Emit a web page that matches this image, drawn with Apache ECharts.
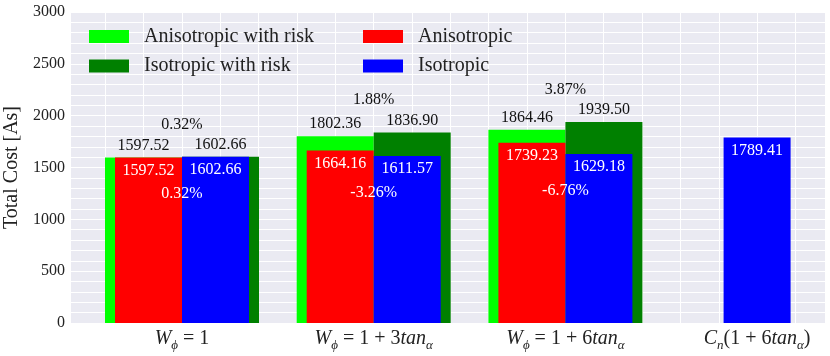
<!DOCTYPE html>
<html>
<head>
<meta charset="utf-8">
<script src="https://cdn.jsdelivr.net/npm/echarts@6/dist/echarts.min.js"></script>
<style>
  html, body { margin: 0; padding: 0; background: #fff; }
  #chart-container { width: 830px; height: 356px; }
</style>
</head>
<body>
<div id="chart-container"></div>
<script>
// tick labels of the x axis (rich text for the math)
const xLabels = [
  '{i|W}{s|ϕ}{r| = 1}',
  '{i|W}{s|ϕ}{r| = 1 + 3}{i|tan}{s|α}',
  '{i|W}{s|ϕ}{r| = 1 + 6}{i|tan}{s|α}',
  '{i|C}{s|n}{r|(1 + 6}{i|tan}{s|α}{r|)}'
];
const anisoRisk = [1597.52, 1802.36, 1864.46, '-'];
const isoRisk = [1602.66, 1836.90, 1939.50, '-'];
const aniso = [1597.52, 1664.16, 1739.23, '-'];
const iso = [1602.66, 1611.57, 1629.18, '-'];
const isoCn = ['-', '-', '-', 1789.41];
const riskDiff = ['0.32%', '1.88%', '3.87%'];
const plainDiff = ['0.32%', '-3.26%', '-6.76%'];

const SERIF = "'Liberation Serif', 'DejaVu Serif', serif";
const fmt = (p) => p.value.toFixed(2);

const riskTop = riskDiff.map((t, i) => Math.max(anisoRisk[i], isoRisk[i]));
const plainLow = plainDiff.map((t, i) => Math.min(aniso[i], iso[i]));

const dom = document.getElementById('chart-container');
const myChart = window.echarts.init(dom, null, { renderer: 'canvas' });

const topLabel = {
  show: true, position: 'top', distance: 4,
  fontFamily: SERIF, fontSize: 16, color: '#111', formatter: fmt
};
const inLabel = {
  show: true, position: 'insideTop', distance: 5,
  fontFamily: SERIF, fontSize: 16, color: '#fff', formatter: fmt
};
const hiddenCat = {
  type: 'category', gridIndex: 2, data: xLabels, show: false
};

const option = {
  animation: false,
  backgroundColor: '#fff',
  legend: [
    {
      left: 89, top: 26.5, orient: 'vertical', padding: 0,
      itemWidth: 40, itemHeight: 13, itemGap: 9.5, icon: 'rect',
      textStyle: { fontFamily: SERIF, fontSize: 20, lineHeight: 20, color: '#222', padding: [0, 0, 0, 10] },
      data: ['Anisotropic with risk', 'Isotropic with risk']
    },
    {
      left: 363, top: 26.5, orient: 'vertical', padding: 0,
      itemWidth: 40, itemHeight: 13, itemGap: 9.5, icon: 'rect',
      textStyle: { fontFamily: SERIF, fontSize: 20, lineHeight: 20, color: '#222', padding: [0, 0, 0, 10] },
      data: ['Anisotropic', 'Isotropic']
    }
  ],
  grid: [
    // background + horizontal lines
    { left: 71, top: 12, width: 754, height: 311, show: true, backgroundColor: '#EAEAF2', borderWidth: 0, outerBoundsMode: 'none' },
    // vertical lines
    { left: 66.98, top: 12, width: 766.8, height: 311, outerBoundsMode: 'none' },
    // bars
    { left: 86.15, top: 12, width: 766.8, height: 311, outerBoundsMode: 'none' }
  ],
  xAxis: [
    { type: 'value', gridIndex: 0, min: 0, max: 1, show: false },
    {
      type: 'value', gridIndex: 1, min: -0.6, max: 3.4, interval: 0.2,
      axisLine: { show: false }, axisTick: { show: false }, axisLabel: { show: false },
      splitLine: { show: true, lineStyle: { color: '#fff', width: 1 } }
    },
    {
      type: 'category', gridIndex: 2, data: xLabels,
      axisLine: { show: false }, axisTick: { show: false },
      axisLabel: {
        interval: 0, margin: 2, color: '#222',
        rich: {
          i: { fontFamily: SERIF, fontStyle: 'italic', fontSize: 20, color: '#222' },
          r: { fontFamily: SERIF, fontSize: 20, color: '#222' },
          s: { fontFamily: SERIF, fontStyle: 'italic', fontSize: 13, color: '#222', padding: [14, 0, 0, 0] }
        }
      }
    },
    hiddenCat,
    hiddenCat
  ],
  yAxis: [
    {
      type: 'value', gridIndex: 0, min: 0, max: 3000, interval: 500,
      name: 'Total Cost [As]', nameLocation: 'middle', nameGap: 46,
      nameTextStyle: { fontFamily: SERIF, fontSize: 20, color: '#222' },
      axisLine: { show: false }, axisTick: { show: false },
      axisLabel: { fontFamily: SERIF, fontSize: 16, color: '#222', margin: 6, padding: [5, 0, 0, 0], formatter: (v) => String(v) },
      splitLine: { show: true, lineStyle: { color: '#fff', width: 1 } },
      minorTick: { show: false, splitNumber: 5 },
      minorSplitLine: { show: true, lineStyle: { color: '#fff', width: 1 } }
    },
    { type: 'value', gridIndex: 1, min: 0, max: 3000, show: false, splitLine: { show: false } },
    { type: 'value', gridIndex: 2, min: 0, max: 3000, show: false, splitLine: { show: false } }
  ],
  series: [
    {
      name: 'Anisotropic with risk', type: 'bar', xAxisIndex: 2, yAxisIndex: 2,
      data: anisoRisk, barWidth: 77, barGap: '0%',
      itemStyle: { color: '#00FF00' }, label: topLabel
    },
    {
      name: 'Isotropic with risk', type: 'bar', xAxisIndex: 2, yAxisIndex: 2,
      data: isoRisk, barWidth: 77, barGap: '0%',
      itemStyle: { color: '#008000' }, label: topLabel
    },
    {
      name: 'Anisotropic', type: 'bar', xAxisIndex: 3, yAxisIndex: 2,
      data: aniso, barWidth: 67, barGap: '0%',
      itemStyle: { color: '#FF0000' }, label: inLabel
    },
    {
      name: 'Isotropic', type: 'bar', xAxisIndex: 3, yAxisIndex: 2,
      data: iso, barWidth: 67, barGap: '0%',
      itemStyle: { color: '#0000FF' }, label: inLabel
    },
    {
      name: 'Isotropic', type: 'bar', xAxisIndex: 4, yAxisIndex: 2,
      data: isoCn, barWidth: 67,
      itemStyle: { color: '#0000FF' }, label: inLabel
    },
    {
      type: 'scatter', xAxisIndex: 2, yAxisIndex: 2, silent: true, z: 5,
      data: riskTop, symbolSize: 1, itemStyle: { color: 'transparent', opacity: 1 },
      label: {
        show: true, position: 'top', distance: 24, opacity: 1,
        fontFamily: SERIF, fontSize: 16, color: '#111',
        formatter: (p) => riskDiff[p.dataIndex]
      }
    },
    {
      type: 'scatter', xAxisIndex: 2, yAxisIndex: 2, silent: true, z: 5,
      data: plainLow, symbolSize: 1, itemStyle: { color: 'transparent', opacity: 1 },
      label: {
        show: true, position: 'bottom', distance: 28, opacity: 1,
        fontFamily: SERIF, fontSize: 16, color: '#fff',
        formatter: (p) => plainDiff[p.dataIndex]
      }
    }
  ]
};
myChart.setOption(option);
window.addEventListener('resize', myChart.resize);
</script>
</body>
</html>
